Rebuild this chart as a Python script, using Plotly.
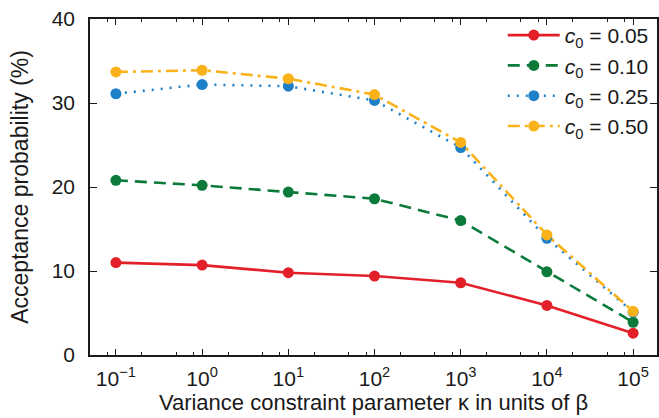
import plotly.graph_objects as go

# kappa values (units of beta) and acceptance probability (%) for each c0
kappa = [1e-1, 1e0, 1e1, 1e2, 1e3, 1e4, 1e5]
acc_c005 = [11.0, 10.7, 9.8, 9.4, 8.6, 5.9, 2.6]
acc_c010 = [20.8, 20.2, 19.4, 18.6, 16.0, 9.9, 3.9]
acc_c025 = [31.1, 32.2, 32.0, 30.3, 24.7, 13.9, 5.1]
acc_c050 = [33.7, 33.9, 32.9, 31.0, 25.3, 14.3, 5.2]

series_names = ["<i>c</i><sub>0</sub> = 0.05", "<i>c</i><sub>0</sub> = 0.10",
                "<i>c</i><sub>0</sub> = 0.25", "<i>c</i><sub>0</sub> = 0.50"]
series_values = [acc_c005, acc_c010, acc_c025, acc_c050]
series_colors = ["#E3202A", "#0B7A3A", "#1D80C8", "#F9B21A"]
series_dashes = ["solid", "12px,7px", "2px,7px", "12px,5px,3px,5px"]

x_tick_vals = [1e-1, 1e0, 1e1, 1e2, 1e3, 1e4, 1e5]
x_tick_text = ["10<sup>\u22121</sup>", "10<sup>0</sup>", "10<sup>1</sup>", "10<sup>2</sup>",
               "10<sup>3</sup>", "10<sup>4</sup>", "10<sup>5</sup>"]
x_minor_vals = [m * 10.0 ** e for e in range(-2, 6) for m in (2, 5, 8)]
y_tick_vals = [0, 10, 20, 30, 40]

FONT = "Liberation Sans, Arial, Helvetica, sans-serif"
AXIS_COLOR = "#1a1a1a"

fig = go.Figure()
for i, (name, vals, col, dash) in enumerate(zip(series_names, series_values,
                                                 series_colors, series_dashes)):
    fig.add_trace(go.Scatter(
        x=kappa, y=vals, name=name, mode="lines+markers",
        line=dict(color=col, width=2.6, dash=dash),
        marker=dict(color=col, size=11),
        legendgroup=f"g{i}",
    ))

fig.update_layout(
    width=659, height=418,
    margin=dict(l=90, r=0, t=19, b=63),
    paper_bgcolor="white", plot_bgcolor="white",
    font=dict(family=FONT, size=21, color="#1a1a1a"),
    showlegend=True,
    legend=dict(
        x=0.728, y=1.012, xanchor="left", yanchor="top",
        bgcolor="rgba(255,255,255,0)", borderwidth=0,
        font=dict(family=FONT, size=21, color="#1a1a1a"),
        tracegroupgap=0, itemwidth=52,
    ),
    xaxis=dict(
        type="log", range=[-1.3006, 5.277],
        tickvals=x_tick_vals, ticktext=x_tick_text,
        tickfont=dict(size=21),
        ticks="inside", ticklen=6, tickwidth=1.2, tickcolor=AXIS_COLOR,
        showline=True, linecolor=AXIS_COLOR, linewidth=1.6, mirror="ticks",
        showgrid=False, zeroline=False,
        ticklabelstandoff=4,
        minor=dict(tickvals=x_minor_vals, ticks="inside", ticklen=3,
                   tickwidth=1.2, tickcolor=AXIS_COLOR, showgrid=False),
        title=dict(text="Variance constraint parameter \u03ba in units of \u03b2",
                   font=dict(size=22), standoff=2),
    ),
    yaxis=dict(
        range=[0, 40], tickvals=y_tick_vals,
        tickfont=dict(size=21),
        ticks="inside", ticklen=7, tickwidth=1.2, tickcolor=AXIS_COLOR,
        showline=True, linecolor=AXIS_COLOR, linewidth=1.6, mirror="ticks",
        showgrid=False, zeroline=False,
        ticklabelstandoff=9,
        title=dict(text="Acceptance probability (%)", font=dict(size=23), standoff=17),
    ),
)

fig.write_html("out.html")
